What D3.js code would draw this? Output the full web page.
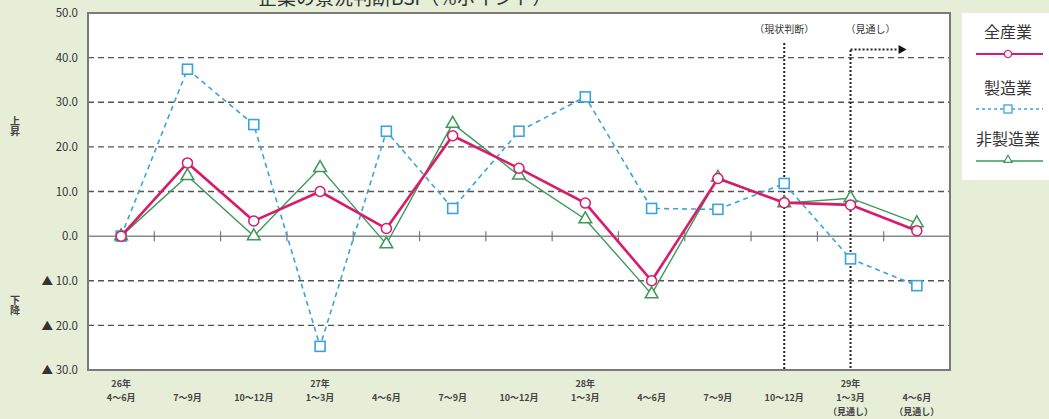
<!DOCTYPE html>
<html><head><meta charset="utf-8">
<script src="https://cdn.jsdelivr.net/npm/d3@7"></script>
<style>
html,body{margin:0;padding:0;background:#e6eed8;}
svg{display:block;font-family:"Noto Sans CJK JP","Noto Sans",sans-serif;}
</style></head>
<body>
<svg id="c" width="1049" height="419"></svg>
<script>
const yearLabels = ["26年","","","27年","","","","28年","","","","29年",""];
const periodLabels = ["4〜6月","7〜9月","10〜12月","1〜3月","4〜6月","7〜9月","10〜12月","1〜3月","4〜6月","7〜9月","10〜12月","1〜3月","4〜6月"];
const noteLabels = ["","","","","","","","","","","","（見通し）","（見通し）"];
const allIndustry = [0, 16.4, 3.4, 10.0, 1.7, 22.5, 15.2, 7.4, -10.0, 12.9, 7.5, 7.0, 1.2];
const manufacturing = [0, 37.4, 25.0, -24.7, 23.5, 6.2, 23.5, 31.2, 6.2, 6.0, 11.8, -5.1, -11.1];
const nonManufacturing = [0, 13.5, 0, 15.3, -1.8, 25.2, 13.6, 3.8, -13.0, 13.1, 7.4, 8.5, 2.9];
const yTicks = [50, 40, 30, 20, 10, 0, -10, -20, -30];
const seriesNames = ["全産業","製造業","非製造業"];

const svg = d3.select("#c");
const L = 88, R = 950, T = 13, B = 370;
const idx = d3.range(periodLabels.length);
const x = d3.scaleBand().domain(idx).range([L, R]);
const cx = i => x(i) + x.bandwidth()/2;
const y = d3.scaleLinear().domain([-30, 50]).range([B, T]);

// title (cut off at top)
svg.append("text").attr("x", 258).attr("y", 5).attr("font-size", 19).attr("fill", "#333")
  .text("企業の景況判断BSI（%ポイント）");

// plot background
svg.append("rect").attr("x", L).attr("y", T).attr("width", R-L).attr("height", B-T).attr("fill", "#fff");

// gridlines
svg.append("g").selectAll("line").data(yTicks.filter(d => d !== 0 && d !== 50 && d !== -30)).join("line")
  .attr("x1", L).attr("x2", R).attr("y1", d => y(d)).attr("y2", d => y(d))
  .attr("stroke", "#555").attr("stroke-width", 1.3).attr("stroke-dasharray", "6,4");

// zero line and ticks
svg.append("line").attr("x1", L).attr("x2", R).attr("y1", y(0)).attr("y2", y(0))
  .attr("stroke", "#888").attr("stroke-width", 1.5);
svg.append("g").selectAll("line").data(idx.slice(1)).join("line")
  .attr("x1", d => x(d)).attr("x2", d => x(d)).attr("y1", y(0)-5).attr("y2", y(0)+5)
  .attr("stroke", "#777").attr("stroke-width", 1.2);

// vertical dotted markers
const vline = (i, top) => svg.append("line").attr("x1", cx(i)).attr("x2", cx(i)).attr("y1", top).attr("y2", B)
  .attr("stroke", "#222").attr("stroke-width", 2).attr("stroke-dasharray", "2,2");
vline(10, 43);
vline(11, 50);
svg.append("line").attr("x1", cx(11)).attr("x2", cx(11)+48).attr("y1", 49.5).attr("y2", 49.5)
  .attr("stroke", "#222").attr("stroke-width", 2).attr("stroke-dasharray", "2,2");
svg.append("path").attr("d", `M${cx(11)+48},45 L${cx(11)+56},49.5 L${cx(11)+48},54 Z`).attr("fill", "#111");
svg.append("text").attr("x", cx(10)).attr("y", 33).attr("text-anchor", "middle").attr("font-size", 10).attr("fill", "#333").text("（現状判断）");
svg.append("text").attr("x", cx(11)+20).attr("y", 33).attr("text-anchor", "middle").attr("font-size", 10).attr("fill", "#333").text("（見通し）");

// frame
svg.append("rect").attr("x", L).attr("y", T).attr("width", R-L).attr("height", B-T)
  .attr("fill", "none").attr("stroke", "#7a7a7a").attr("stroke-width", 2);

// y axis labels
const yAxis = d3.axisLeft(y).tickValues(yTicks).tickSize(0).tickPadding(10)
  .tickFormat(d => d < 0 ? "▲\u00a0" + Math.abs(d).toFixed(1) : d.toFixed(1));
const ya = svg.append("g").attr("transform", `translate(${L},0)`).call(yAxis);
ya.select(".domain").remove();
ya.selectAll("text").attr("font-size", 11.5).attr("fill", "#333").attr("font-family", "'Noto Sans CJK JP'");

// vertical side labels (vertical writing mode)
const vtext = (s, y0) => svg.append("text").attr("x", 15).attr("y", y0)
  .style("writing-mode", "vertical-rl").attr("font-size", 10).attr("font-weight", "bold")
  .attr("fill", "#444").text(s);
vtext("上昇", 116);
vtext("下降", 295);

// x labels
const xg = svg.append("g");
idx.forEach(i => {
  if (yearLabels[i]) xg.append("text").attr("x", cx(i)).attr("y", 387).attr("text-anchor", "middle").attr("font-size", 9).attr("font-weight", "bold").attr("fill", "#444").text(yearLabels[i]);
  xg.append("text").attr("x", cx(i)).attr("y", 401).attr("text-anchor", "middle").attr("font-size", 9).attr("font-weight", "bold").attr("fill", "#444").text(periodLabels[i]);
  if (noteLabels[i]) xg.append("text").attr("x", cx(i)).attr("y", 415).attr("text-anchor", "middle").attr("font-size", 9).attr("font-weight", "bold").attr("fill", "#444").text(noteLabels[i]);
});

const colors = {all: "#d81b6a", mfg: "#3aa3dc", non: "#3d9a58"};
const line = d3.line().x((d, i) => cx(i)).y(d => y(d));

// manufacturing
svg.append("path").datum(manufacturing).attr("d", line).attr("fill", "none")
  .attr("stroke", colors.mfg).attr("stroke-width", 1.6).attr("stroke-dasharray", "5,4");
svg.append("g").selectAll("rect").data(manufacturing).join("rect")
  .attr("x", (d, i) => cx(i)-5).attr("y", d => y(d)-5).attr("width", 10).attr("height", 10)
  .attr("fill", "#fff").attr("stroke", colors.mfg).attr("stroke-width", 1.6);

// non-manufacturing
svg.append("path").datum(nonManufacturing).attr("d", line).attr("fill", "none")
  .attr("stroke", colors.non).attr("stroke-width", 1.4);
const tri = d3.symbol().type(d3.symbolTriangle).size(70);
svg.append("g").selectAll("path").data(nonManufacturing).join("path")
  .attr("d", tri).attr("transform", (d, i) => `translate(${cx(i)},${y(d)})`)
  .attr("fill", "#fff").attr("stroke", colors.non).attr("stroke-width", 1.5);

// all industries
svg.append("path").datum(allIndustry).attr("d", line).attr("fill", "none")
  .attr("stroke", colors.all).attr("stroke-width", 2.6);
svg.append("g").selectAll("circle").data(allIndustry).join("circle")
  .attr("cx", (d, i) => cx(i)).attr("cy", d => y(d)).attr("r", 5)
  .attr("fill", "#fff").attr("stroke", colors.all).attr("stroke-width", 1.5);

// legend
svg.append("rect").attr("x", 962).attr("y", 13).attr("width", 95).attr("height", 167).attr("fill", "#fff");
const lx = 1008;
const lg = svg.append("g");
lg.append("text").attr("x", lx).attr("y", 38).attr("text-anchor", "middle").attr("font-size", 16).attr("fill", "#333").text(seriesNames[0]);
lg.append("line").attr("x1", 976).attr("x2", 1043).attr("y1", 54).attr("y2", 54).attr("stroke", colors.all).attr("stroke-width", 2);
lg.append("circle").attr("cx", lx).attr("cy", 54).attr("r", 3.5).attr("fill", "#fff").attr("stroke", colors.all).attr("stroke-width", 1.2);
lg.append("text").attr("x", lx).attr("y", 94).attr("text-anchor", "middle").attr("font-size", 16).attr("fill", "#333").text(seriesNames[1]);
lg.append("line").attr("x1", 976).attr("x2", 1043).attr("y1", 109).attr("y2", 109).attr("stroke", colors.mfg).attr("stroke-width", 1.3).attr("stroke-dasharray", "3,3");
lg.append("rect").attr("x", lx-4).attr("y", 105).attr("width", 8).attr("height", 8).attr("fill", "#fff").attr("stroke", colors.mfg).attr("stroke-width", 1.3);
lg.append("text").attr("x", lx).attr("y", 145).attr("text-anchor", "middle").attr("font-size", 16).attr("fill", "#333").text(seriesNames[2]);
lg.append("line").attr("x1", 976).attr("x2", 1043).attr("y1", 161).attr("y2", 161).attr("stroke", colors.non).attr("stroke-width", 1.3);
lg.append("path").attr("d", d3.symbol().type(d3.symbolTriangle).size(30)).attr("transform", `translate(${lx},160)`)
  .attr("fill", "#fff").attr("stroke", colors.non).attr("stroke-width", 1.2);
</script>
</body></html>
